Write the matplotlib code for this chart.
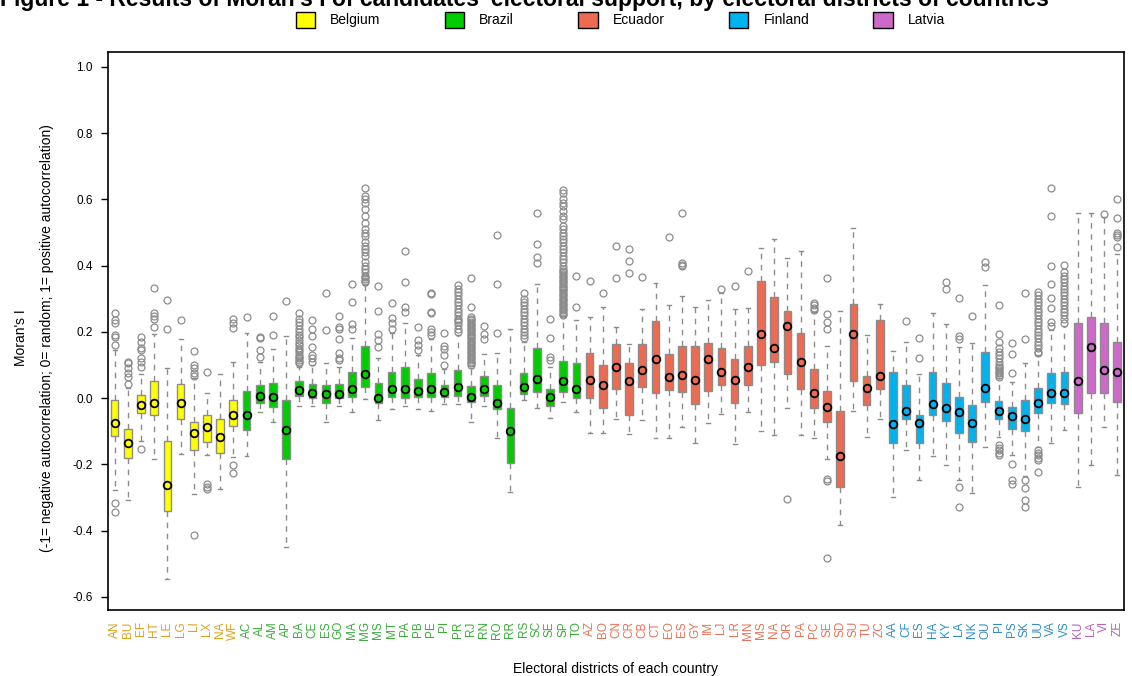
import matplotlib
matplotlib.use('Agg')
import matplotlib.pyplot as plt
from matplotlib.patches import Patch

# countries and their electoral districts
countries = ['Belgium', 'Brazil', 'Ecuador', 'Finland', 'Latvia']
districts = [
    ['AN', 'BU', 'EF', 'HT', 'LE', 'LG', 'LI', 'LX', 'NA', 'WF'],
    ['AC', 'AL', 'AM', 'AP', 'BA', 'CE', 'ES', 'GO', 'MA', 'MG', 'MS', 'MT', 'PA',
     'PB', 'PE', 'PI', 'PR', 'RJ', 'RN', 'RO', 'RR', 'RS', 'SC', 'SE', 'SP', 'TO'],
    ['AZ', 'BO', 'CN', 'CR', 'CB', 'CT', 'EO', 'ES', 'GY', 'IM', 'LJ', 'LR', 'MN',
     'MS', 'NA', 'OR', 'PA', 'PC', 'SE', 'SD', 'SU', 'TU', 'ZC'],
    ['AA', 'CF', 'ES', 'HA', 'KY', 'LA', 'NK', 'OU', 'PI', 'PS', 'SK', 'UU', 'VA', 'VS'],
    ['KU', 'LA', 'VI', 'ZE'],
]

# box statistics (Moran's I)
centre = [
    -0.075, -0.137, -0.021, -0.014, -0.263, -0.014, -0.104, -0.087, -0.117, -0.050,
    -0.050, 0.006, 0.002, -0.097, 0.023, 0.014, 0.011, 0.011, 0.026, 0.072, -0.001, 0.027, 0.027,
    0.022, 0.027, 0.018, 0.032, 0.002, 0.027, -0.014, -0.100, 0.032, 0.059, 0.002, 0.051, 0.027,
    0.056, 0.039, 0.093, 0.051, 0.085, 0.117, 0.064, 0.069, 0.056, 0.117, 0.080, 0.056, 0.093,
    0.193, 0.150, 0.218, 0.109, 0.014, -0.026, -0.174, 0.193, 0.031, 0.067,
    -0.079, -0.038, -0.075, -0.018, -0.031, -0.043, -0.075, 0.031, -0.038, -0.054, -0.063, -0.014, 0.014, 0.014,
    0.051, 0.153, 0.085, 0.080,
]
q1 = [
    -0.115, -0.182, -0.046, -0.050, -0.341, -0.063, -0.157, -0.132, -0.165, -0.084,
    -0.097, -0.014, -0.026, -0.185, 0.006, -0.001, -0.014, -0.001, 0.002, 0.032, -0.014, 0.002, -0.001,
    0.002, 0.002, 0.002, 0.006, -0.011, 0.006, -0.034, -0.197, 0.012, 0.017, -0.023, 0.017, -0.001,
    -0.001, -0.031, 0.026, -0.050, 0.032, 0.014, 0.024, 0.019, -0.018, 0.022, 0.039, -0.014, 0.039,
    0.100, 0.108, 0.072, 0.026, -0.031, -0.071, -0.268, 0.051, -0.021, 0.027,
    -0.137, -0.063, -0.137, -0.051, -0.069, -0.105, -0.134, -0.011, -0.063, -0.092, -0.100, -0.046, -0.014, -0.018,
    -0.046, 0.014, 0.014, -0.011,
]
q3 = [
    -0.006, -0.092, 0.010, 0.051, -0.129, 0.042, -0.071, -0.050, -0.063, -0.006,
    0.022, 0.039, 0.046, -0.006, 0.051, 0.042, 0.039, 0.042, 0.080, 0.158, 0.047, 0.080, 0.093,
    0.059, 0.077, 0.041, 0.085, 0.036, 0.067, 0.039, -0.031, 0.075, 0.150, 0.026, 0.113, 0.105,
    0.137, 0.100, 0.162, 0.105, 0.162, 0.232, 0.133, 0.157, 0.157, 0.165, 0.150, 0.117, 0.157,
    0.353, 0.304, 0.264, 0.198, 0.089, 0.022, -0.039, 0.284, 0.066, 0.236,
    0.080, 0.039, -0.050, 0.080, 0.047, 0.004, -0.021, 0.140, -0.009, -0.026, -0.006, 0.031, 0.077, 0.080,
    0.228, 0.244, 0.228, 0.170,
]
whis_lo = [
    -0.278, -0.308, -0.129, -0.185, -0.545, -0.169, -0.291, -0.172, -0.276, -0.177,
    -0.174, -0.043, -0.071, -0.451, -0.024, -0.024, -0.071, -0.024, -0.043, -0.004, -0.066, -0.034, -0.024,
    -0.034, -0.038, -0.018, -0.018, -0.071, -0.024, -0.120, -0.283, -0.006, -0.031, -0.061, -0.013, -0.043,
    -0.104, -0.104, -0.063, -0.107, -0.066, -0.120, -0.120, -0.087, -0.135, -0.075, -0.049, -0.140, -0.043,
    -0.100, -0.112, -0.029, -0.112, -0.120, -0.185, -0.382, -0.038, -0.117, -0.063,
    -0.300, -0.157, -0.246, -0.174, -0.202, -0.246, -0.288, -0.149, -0.117, -0.172, -0.236, -0.147, -0.135, -0.095,
    -0.268, -0.202, -0.087, -0.233,
]
whis_hi = [
    0.145, 0.030, 0.072, 0.195, 0.090, 0.178, 0.060, 0.014, 0.072, 0.108,
    0.198, 0.110, 0.147, 0.187, 0.095, 0.100, 0.105, 0.095, 0.180, 0.341, 0.122, 0.197, 0.228,
    0.130, 0.177, 0.087, 0.190, 0.090, 0.133, 0.137, 0.210, 0.170, 0.346, 0.095, 0.248, 0.236,
    0.244, 0.276, 0.215, 0.162, 0.268, 0.349, 0.281, 0.308, 0.276, 0.296, 0.318, 0.268, 0.273,
    0.452, 0.480, 0.424, 0.444, 0.261, 0.157, 0.264, 0.515, 0.190, 0.284,
    0.143, 0.170, 0.072, 0.256, 0.224, 0.153, 0.165, 0.341, 0.060, 0.049, 0.105, 0.130, 0.205, 0.218,
    0.558, 0.558, 0.546, 0.435,
]
outliers = [
    # Belgium
    [0.257, 0.236, 0.227, 0.19, 0.184, 0.16, -0.316, -0.344],
    [0.11, 0.105, 0.09, 0.075, 0.064, 0.044],
    [0.183, 0.17, 0.15, 0.145, 0.12, 0.11, 0.095, -0.153],
    [0.333, 0.256, 0.248, 0.24, 0.215],
    [0.296, 0.21],
    [0.236],
    [0.143, 0.1, 0.09, 0.075, 0.066, -0.414],
    [0.08, -0.258, -0.268, -0.276],
    [],
    [0.239, 0.226, 0.212, -0.202, -0.226],
    # Brazil
    [0.244],
    [0.185, 0.18, 0.145, 0.125],
    [0.248, 0.19],
    [0.293],
    [0.256, 0.24, 0.23, 0.22, 0.21, 0.2, 0.19, 0.185, 0.175, 0.165, 0.16, 0.15, 0.145,
     0.14, 0.13, 0.125, 0.12, 0.115, 0.11, 0.105],
    [0.236, 0.21, 0.187, 0.155, 0.13, 0.12, 0.11],
    [0.318, 0.207],
    [0.248, 0.215, 0.21, 0.177, 0.135, 0.12, 0.115],
    [0.346, 0.289, 0.224, 0.21],
    [0.634, 0.61, 0.6, 0.59, 0.57, 0.55, 0.53, 0.51, 0.5, 0.49, 0.47, 0.46, 0.45, 0.44,
     0.43, 0.41, 0.4, 0.39, 0.38, 0.37, 0.365, 0.36, 0.355, 0.35],
    [0.338, 0.264, 0.195, 0.175, 0.155],
    [0.286, 0.241, 0.228, 0.21],
    [0.444, 0.35, 0.276, 0.259],
    [0.215, 0.175, 0.16, 0.145],
    [0.318, 0.313, 0.261, 0.256, 0.21, 0.2, 0.19],
    [0.198, 0.157, 0.147, 0.13, 0.1],
    [0.341, 0.33, 0.32, 0.31, 0.3, 0.29, 0.28, 0.27, 0.26, 0.25, 0.24, 0.235, 0.23,
     0.22, 0.21, 0.2],
    [0.362, 0.276, 0.246, 0.24, 0.235, 0.23, 0.225, 0.22, 0.215, 0.21, 0.205, 0.2, 0.195,
     0.19, 0.185, 0.18, 0.175, 0.17, 0.165, 0.16, 0.155, 0.15, 0.145, 0.14, 0.135, 0.13,
     0.125, 0.12, 0.115, 0.11, 0.105, 0.1],
    [0.218, 0.195, 0.177],
    [0.493, 0.346, 0.198],
    [],
    [0.316, 0.3, 0.29, 0.28, 0.27, 0.26, 0.25, 0.24, 0.23, 0.22, 0.21, 0.2, 0.19, 0.18],
    [0.558, 0.464, 0.427, 0.407],
    [0.239, 0.182, 0.125, 0.115],
    [0.628, 0.62, 0.6, 0.59, 0.58, 0.565, 0.55, 0.54, 0.52, 0.51, 0.5, 0.49, 0.48, 0.47,
     0.46, 0.45, 0.44, 0.43, 0.42, 0.41, 0.4, 0.39, 0.385, 0.38, 0.375, 0.37, 0.365, 0.36,
     0.355, 0.35, 0.345, 0.34, 0.335, 0.33, 0.325, 0.32, 0.315, 0.31, 0.305, 0.3, 0.295,
     0.29, 0.285, 0.28, 0.275, 0.27, 0.265, 0.26, 0.255, 0.25],
    [0.369, 0.276],
    # Ecuador
    [0.353],
    [0.318],
    [0.46, 0.363],
    [0.449, 0.415, 0.379],
    [0.367],
    [],
    [0.485],
    [0.559, 0.407, 0.403, 0.4],
    [],
    [],
    [0.328],
    [0.338],
    [0.383],
    [],
    [],
    [-0.304],
    [],
    [0.288, 0.28, 0.272, 0.266],
    [0.362, 0.253, 0.23, 0.21, -0.245, -0.25, -0.484],
    [],
    [],
    [],
    [],
    # Finland
    [],
    [0.233],
    [0.182, 0.122],
    [],
    [0.351, 0.328],
    [0.301, 0.187, 0.177, -0.268, -0.328],
    [0.248],
    [0.41, 0.395],
    [0.281, 0.195, 0.17, 0.15, 0.14, 0.13, 0.12, 0.11, 0.1, 0.095, 0.09, 0.085, 0.08,
     0.075, 0.07, 0.065, -0.142, -0.15, -0.158, -0.165, -0.172],
    [0.165, 0.133, 0.076, -0.2, -0.246, -0.26],
    [0.318, 0.178, -0.248, -0.273, -0.308, -0.328],
    [0.321, 0.31, 0.3, 0.29, 0.28, 0.27, 0.26, 0.25, 0.24, 0.23, 0.22, 0.21, 0.2, 0.19,
     0.18, 0.17, 0.16, 0.15, 0.14, 0.135, -0.157, -0.165, -0.172, -0.18, -0.187, -0.223],
    [0.634, 0.55, 0.4, 0.346, 0.301, 0.271, 0.23, 0.218],
    [0.402, 0.38, 0.37, 0.36, 0.35, 0.34, 0.33, 0.32, 0.31, 0.3, 0.29, 0.28, 0.27, 0.26,
     0.25, 0.24, 0.226],
    # Latvia
    [],
    [],
    [0.555],
    [0.6, 0.543, 0.498, 0.492, 0.485, 0.457],
]

# colours
box_colors = ['#FFFF00', '#00CD00', '#EE6A50', '#00B2EE', '#CD69C9']
label_colors = ['#D9A21B', '#3DAA3D', '#E5735A', '#2F8FC0', '#B462B4']
grey = '#8C8C8C'

fig = plt.figure(figsize=(11.32, 6.76), dpi=100)
plt.rcParams['font.family'] = ['Liberation Sans', 'DejaVu Sans']
ax = fig.add_axes([0.0954, 0.0976, 0.8974, 0.8254])

# build the stats for bxp
stats = []
colors = []
tick_cols = []
labels = []
k = 0
for c, names in enumerate(districts):
    for name in names:
        stats.append({
            'med': centre[k], 'mean': centre[k],
            'q1': q1[k], 'q3': q3[k],
            'whislo': whis_lo[k], 'whishi': whis_hi[k],
            'fliers': outliers[k],
        })
        colors.append(box_colors[c])
        tick_cols.append(label_colors[c])
        labels.append(name)
        k += 1

positions = list(range(1, len(stats) + 1))
bp = ax.bxp(
    stats,
    positions=positions,
    widths=0.58,
    capwidths=0.3,
    patch_artist=True,
    showmeans=True,
    boxprops=dict(edgecolor=grey, linewidth=1.0),
    whiskerprops=dict(color=grey, linewidth=1.0, linestyle=(0, (4, 4))),
    capprops=dict(color=grey, linewidth=1.0),
    medianprops=dict(visible=False),
    meanprops=dict(marker='o', markerfacecolor='none', markeredgecolor='black',
                   markeredgewidth=1.3, markersize=5.5),
    flierprops=dict(marker='o', markerfacecolor='none', markeredgecolor=grey,
                    markeredgewidth=0.9, markersize=5),
)
for patch, col in zip(bp['boxes'], colors):
    patch.set_facecolor(col)

ax.set_xlim(0.5, len(stats) + 0.5)
ax.set_ylim(-0.64, 1.045)
ax.set_yticks([-0.6, -0.4, -0.2, 0.0, 0.2, 0.4, 0.6, 0.8, 1.0])
ax.set_yticklabels(['-0.6', '-0.4', '-0.2', '0.0', '0.2', '0.4', '0.6', '0.8', '1.0'],
                   fontsize=8.5)
ax.set_xticks(positions)
ax.set_xticklabels(labels, rotation=90, fontsize=8.5)
for lab, col in zip(ax.get_xticklabels(), tick_cols):
    lab.set_color(col)
ax.tick_params(axis='x', length=0, pad=8)
ax.tick_params(axis='y', length=5, width=1, pad=6)
for s in ax.spines.values():
    s.set_linewidth(1.2)

# two-line y label
fig.text(0.0185, 0.5, "Moran's I", rotation=90, fontsize=10, ha='center', va='center')
fig.text(0.0415, 0.5, "(-1= negative autocorrelation; 0= random; 1= positive autocorrelation)",
         rotation=90, fontsize=10, ha='center', va='center')
ax.set_xlabel('Electoral districts of each country', fontsize=10, labelpad=16)

# legend on top
handles = [Patch(facecolor=c, edgecolor='black', linewidth=1.0) for c in box_colors]
fig.legend(handles, countries, loc='center', bbox_to_anchor=(0.548, 0.971), ncol=5,
           frameon=False, fontsize=10, handlelength=1.4, handleheight=1.4,
           columnspacing=4.6, handletextpad=1.1)

# title, partly clipped by the top edge as in the original
fig.text(0.0, 1 - 6 / 676, "Figure 1 - Results of Moran's I of candidates' electoral support, "
         "by electoral districts of countries", fontsize=16.5, fontweight='bold',
         ha='left', va='baseline')

fig.savefig('out.png', dpi=100)
